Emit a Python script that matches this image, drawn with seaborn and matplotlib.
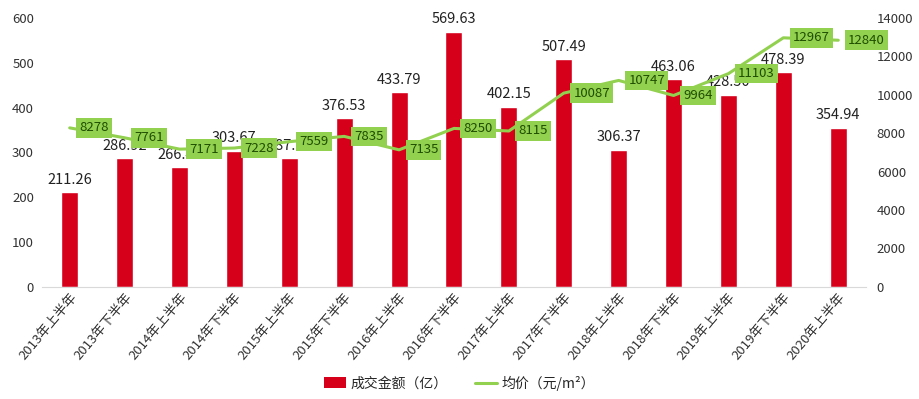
import numpy as np
import pandas as pd
import seaborn as sns
import matplotlib.pyplot as plt
from matplotlib.patches import Patch
from matplotlib.lines import Line2D

periods = ['2013年上半年', '2013年下半年', '2014年上半年', '2014年下半年', '2015年上半年',
           '2015年下半年', '2016年上半年', '2016年下半年', '2017年上半年', '2017年下半年',
           '2018年上半年', '2018年下半年', '2019年上半年', '2019年下半年', '2020年上半年']
amount = [211.26, 286.92, 266.46, 303.67, 287.73, 376.53, 433.79, 569.63,
          402.15, 507.49, 306.37, 463.06, 428.50, 478.39, 354.94]
price = [8278, 7761, 7171, 7228, 7559, 7835, 7135, 8250,
         8115, 10087, 10747, 9964, 11103, 12967, 12840]

bar_color = '#D7001B'
line_color = '#92D050'

sns.set_style('white')
plt.rcParams['font.family'] = ['Noto Sans CJK SC', 'DejaVu Sans']

df = pd.DataFrame({'period': periods, 'amount': amount, 'price': price})
df['pos'] = np.arange(len(df))

fig = plt.figure(figsize=(9.19, 3.99), dpi=100)
ax = fig.add_axes([0.046, 0.281, 0.896, 0.674])

sns.barplot(data=df, x='period', y='amount', color=bar_color, width=0.31,
            saturation=1, ax=ax, zorder=2)
for i, v in enumerate(amount):
    ax.text(i, v + 12, f'{v:.2f}', ha='center', va='bottom', fontsize=10.5,
            color='#222222', zorder=3)

ax.set_ylim(0, 600)
ax.set_yticks(range(0, 601, 100))
ax.set_xlim(-0.5, len(periods) - 0.5)
ax.set_xlabel('')
ax.set_ylabel('')
ax.tick_params(axis='y', labelsize=9.5, length=0, colors='#333333', pad=6)
ax.tick_params(axis='x', labelsize=9.5, length=0, colors='#333333', pad=3)
plt.setp(ax.get_xticklabels(), rotation=50, ha='right', rotation_mode='anchor')
for s in ['top', 'right', 'left']:
    ax.spines[s].set_visible(False)
ax.spines['bottom'].set_color('#D9D9D9')

ax2 = ax.twinx()
sns.lineplot(data=df, x='pos', y='price', color=line_color, linewidth=2.2, ax=ax2)
ax2.set_ylim(0, 14000)
ax2.set_yticks(range(0, 14001, 2000))
ax2.set_ylabel('')
ax2.set_xlabel('')
ax2.tick_params(axis='y', labelsize=9.5, length=0, colors='#333333', pad=8)
for s in ['top', 'right', 'left', 'bottom']:
    ax2.spines[s].set_visible(False)
for i, p in enumerate(price):
    ax2.annotate(str(p), (i, p), xytext=(7, 0), textcoords='offset points',
                 ha='left', va='center', fontsize=9.5, color='#1F4E00',
                 bbox=dict(boxstyle='square,pad=0.25', fc=line_color, ec='none'),
                 zorder=5)
ax2.set_zorder(ax.get_zorder() + 1)
ax2.patch.set_visible(False)

handles = [Patch(facecolor=bar_color, edgecolor='none'),
           Line2D([0], [0], color=line_color, linewidth=2.2)]
labels = ['成交金额（亿）', '均价（元/m²）']
fig.legend(handles, labels, loc='center', bbox_to_anchor=(0.5, 0.04), ncol=2,
           frameon=False, fontsize=10, handlelength=1.6, handleheight=0.8,
           columnspacing=2.0, handletextpad=0.3)

fig.savefig('out.png', dpi=100)
